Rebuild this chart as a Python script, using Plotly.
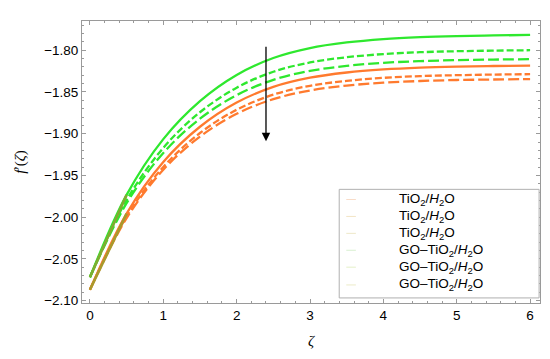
import plotly.graph_objects as go

# ---- data ----
zeta = [0, 0.5, 1, 1.5, 2, 2.5, 3, 3.5, 4, 4.5, 5, 5.5, 6]

go_solid = [-2.0720, -1.9733, -1.9065, -1.8610, -1.8296, -1.8093, -1.7974, -1.7907, -1.7866,
            -1.7843, -1.7830, -1.7823, -1.7817]
go_dash1 = [-2.0720, -1.9795, -1.9170, -1.8743, -1.8449, -1.8258, -1.8147, -1.8084, -1.8046,
            -1.8024, -1.8012, -1.8005, -1.8000]
go_dash2 = [-2.0720, -1.9832, -1.9231, -1.8820, -1.8538, -1.8355, -1.8248, -1.8188, -1.8151,
            -1.8131, -1.8119, -1.8112, -1.8107]
ti_solid = [-2.0870, -1.9957, -1.9339, -1.8917, -1.8627, -1.8439, -1.8329, -1.8267, -1.8230,
            -1.8208, -1.8196, -1.8189, -1.8184]
ti_dash1 = [-2.0870, -1.9992, -1.9398, -1.8992, -1.8713, -1.8532, -1.8426, -1.8367, -1.8331,
            -1.8310, -1.8299, -1.8292, -1.8287]
ti_dash2 = [-2.0870, -2.0012, -1.9431, -1.9035, -1.8762, -1.8586, -1.8482, -1.8424, -1.8389,
            -1.8369, -1.8357, -1.8351, -1.8346]

legend_labels = ["TiO<sub>2</sub>/<i>H</i><sub>2</sub>O"] * 3 + ["GO\u2013TiO<sub>2</sub>/<i>H</i><sub>2</sub>O"] * 3

x_ticks = [0, 1, 2, 3, 4, 5, 6]
y_ticks = [-2.10, -2.05, -2.00, -1.95, -1.90, -1.85, -1.80]

arrow_x = 2.4
arrow_y_start = -1.794
arrow_y_end = -1.909

GREEN = "#2ee82e"
ORANGE = "#ff7a2e"

fig = go.Figure()

series = [
    (ti_dash2, ORANGE, "11px,4px"),
    (ti_dash1, ORANGE, "7px,3px"),
    (ti_solid, ORANGE, "solid"),
    (go_dash2, GREEN, "11px,4px"),
    (go_dash1, GREEN, "7px,3px"),
    (go_solid, GREEN, "solid"),
]
for ys, col, dash in series:
    fig.add_trace(go.Scatter(x=zeta, y=ys, mode="lines",
                             line=dict(color=col, width=2.3, dash=dash, shape="spline", smoothing=1.0),
                             showlegend=False, hoverinfo="skip"))

# olive-looking overlap at the start
n0 = 2
fig.add_trace(go.Scatter(x=zeta[:n0], y=ti_solid[:n0], mode="lines",
                         line=dict(color="#a89a2c", width=2.6),
                         showlegend=False, hoverinfo="skip"))
fig.add_trace(go.Scatter(x=zeta[:n0], y=go_solid[:n0], mode="lines",
                         line=dict(color="#80ac30", width=2.6),
                         showlegend=False, hoverinfo="skip"))

# arrow
fig.add_annotation(x=arrow_x, y=arrow_y_end, ax=arrow_x, ay=arrow_y_start,
                   xref="x", yref="y", axref="x", ayref="y", text="",
                   showarrow=True, arrowhead=2, arrowsize=1.3, arrowwidth=1.3, arrowcolor="black")

# manual legend
fig.add_shape(type="rect", xref="paper", yref="paper", x0=0.5616, x1=0.998, y0=0.018, y1=0.403,
              line=dict(color="#b0b0b0", width=1), fillcolor="white")
legend_y = [0.367, 0.307, 0.247, 0.187, 0.127, 0.064]
sample_cols = ["#f8dcc8", "#f2e4c4", "#eee8c8", "#d8f0d0", "#e4f0c8", "#ecebc8"]
for lab, yy, sc in zip(legend_labels, legend_y, sample_cols):
    fig.add_shape(type="line", xref="paper", yref="paper", x0=0.577, x1=0.598, y0=yy, y1=yy,
                  line=dict(color=sc, width=1))
    fig.add_annotation(x=0.687, y=yy, xref="paper", yref="paper", text=lab, showarrow=False,
                       xanchor="left", yanchor="middle", font=dict(size=13.5, color="black"))

axis_common = dict(showline=True, linecolor="#9a9a9a", linewidth=1, mirror="allticks",
                   ticks="inside", tickcolor="#9a9a9a", ticklen=4, showgrid=False, zeroline=False,
                   tickfont=dict(size=13.5, color="black", family="Liberation Sans, Arial"))

fig.update_xaxes(range=[-0.108, 6.135], tickvals=x_ticks, ticktext=[str(v) for v in x_ticks],
                 minor=dict(ticks="inside", dtick=0.2, tick0=0, ticklen=2, tickcolor="#9a9a9a"),
                 title=dict(text="<i>\u03b6</i>", standoff=13,
                            font=dict(size=15, color="black", family="Liberation Serif, Times New Roman")),
                 **axis_common)
fig.update_yaxes(range=[-2.1028, -1.765], tickvals=y_ticks, ticktext=[f"\u2212{abs(v):.2f}" for v in y_ticks],
                 minor=dict(ticks="inside", dtick=0.01, tick0=-2.10, ticklen=2, tickcolor="#9a9a9a"),
                 title=dict(text="<i>f</i>\u2032(<i>\u03b6</i>)", standoff=14,
                            font=dict(size=15, color="black", family="Liberation Serif, Times New Roman")),
                 **axis_common)

# page body has an 8px margin: compensate so the frame lands at x 77..540, y 20..303
fig.update_layout(width=550, height=359, margin=dict(l=69, r=18, t=12, b=64),
                  paper_bgcolor="white", plot_bgcolor="white",
                  font=dict(family="Liberation Sans, Arial", color="black"))

fig.write_html("out.html")
